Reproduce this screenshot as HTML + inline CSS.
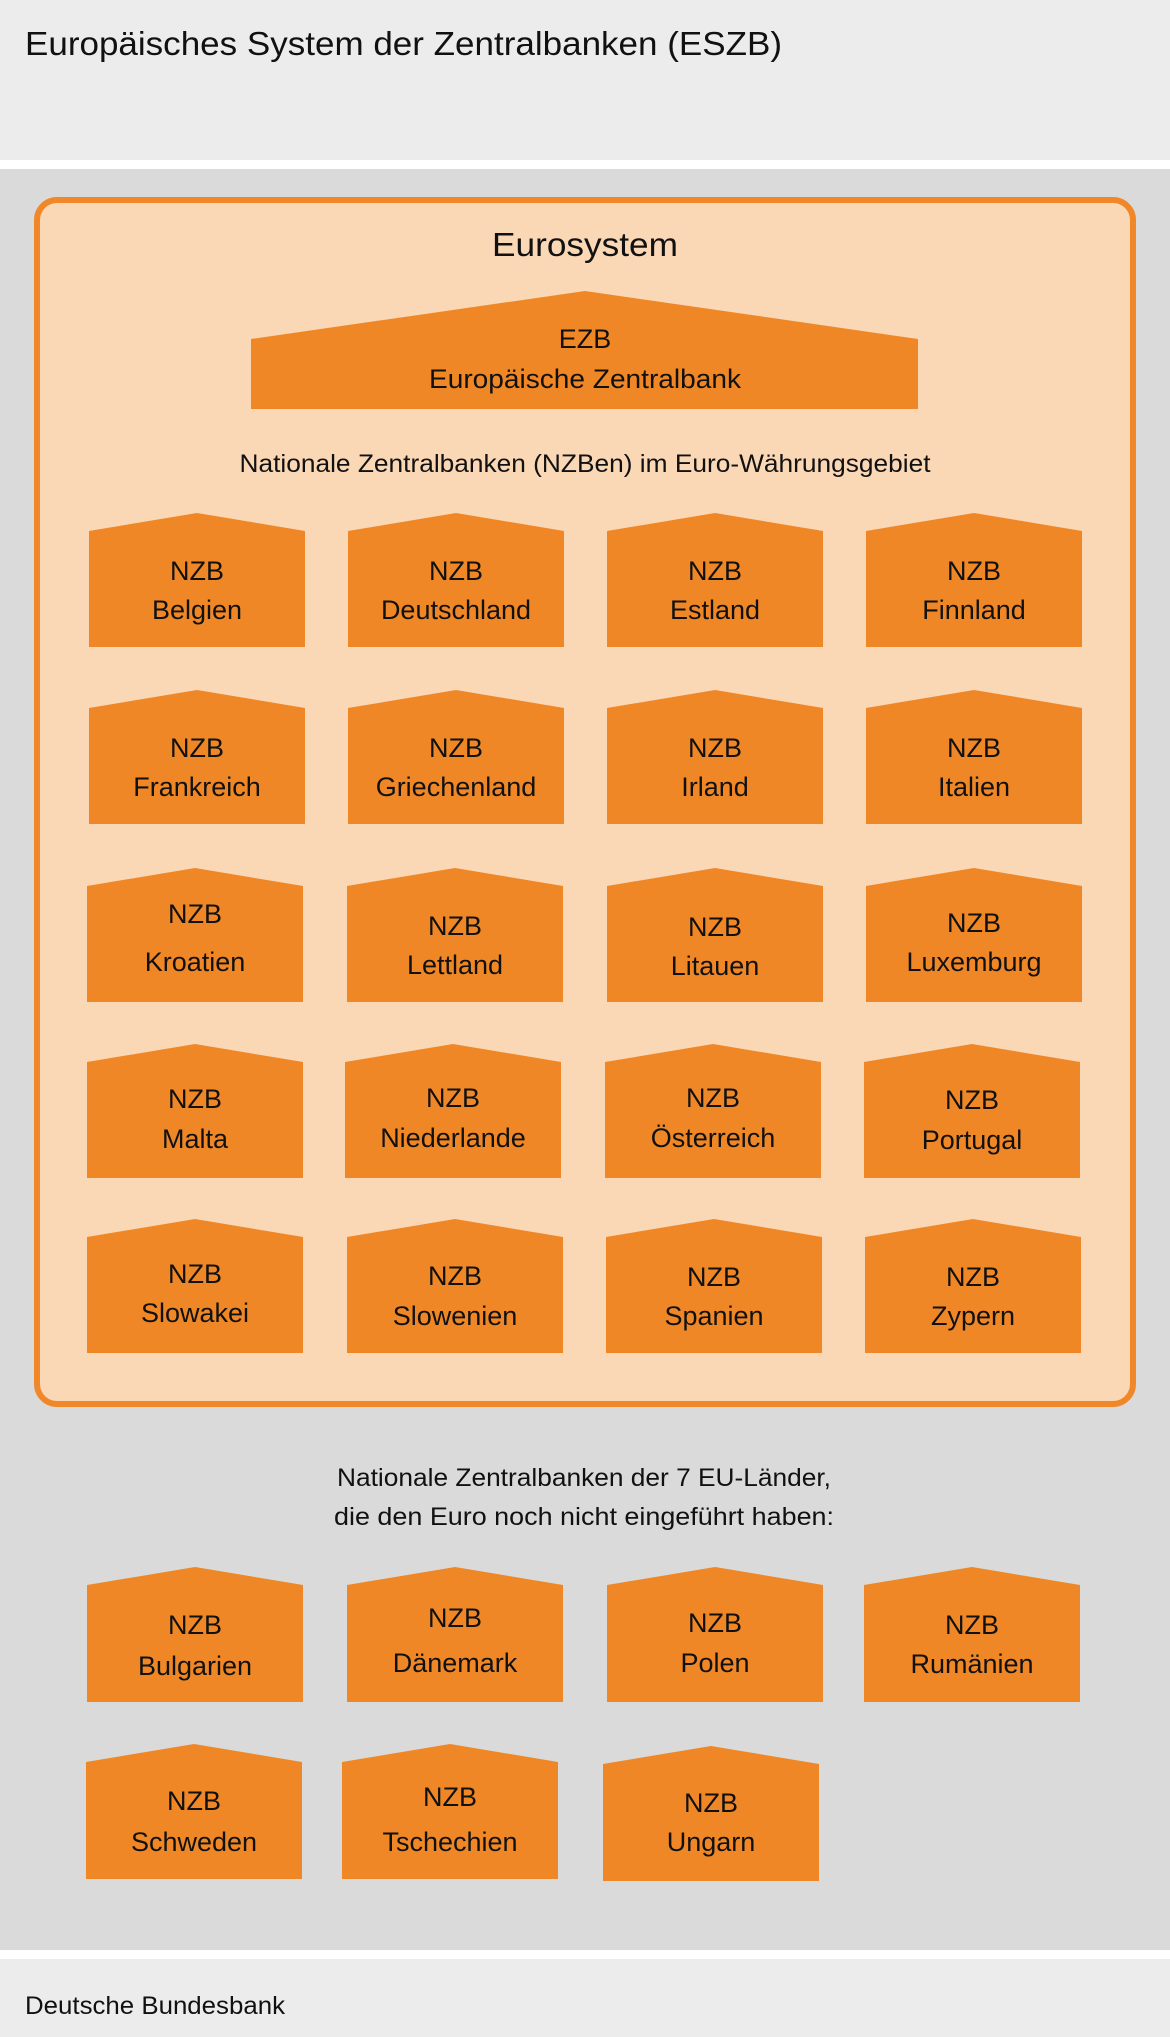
<!DOCTYPE html>
<html><head><meta charset="utf-8"><style>
html,body{margin:0;padding:0;width:1170px;height:2037px;overflow:hidden;background:#fff}
svg{display:block}
text{font-family:"Liberation Sans",sans-serif;fill:#111}
.b{font-size:27px;text-anchor:middle}
</style></head><body>
<svg width="1170" height="2037" viewBox="0 0 1170 2037" xmlns="http://www.w3.org/2000/svg">
<rect x="0" y="0" width="1170" height="160" fill="#ececec"/>
<rect x="0" y="169" width="1170" height="1781" fill="#dadada"/>
<rect x="0" y="1959" width="1170" height="78" fill="#ececec"/>
<text x="25" y="55" font-size="33" textLength="757" lengthAdjust="spacingAndGlyphs">Europäisches System der Zentralbanken (ESZB)</text>
<rect x="37" y="200" width="1096" height="1204" rx="20" fill="#fad7b5" stroke="#f0882a" stroke-width="6"/>
<text x="585" y="256" font-size="33" text-anchor="middle" textLength="186" lengthAdjust="spacingAndGlyphs">Eurosystem</text>
<polygon points="251,339 585,291 918,339 918,409 251,409" fill="#f08726"/>
<text class="b" x="585" y="348">EZB</text>
<text class="b" x="585" y="388" textLength="312" lengthAdjust="spacingAndGlyphs">Europäische Zentralbank</text>
<text x="585" y="472" font-size="25" text-anchor="middle" textLength="691" lengthAdjust="spacingAndGlyphs">Nationale Zentralbanken (NZBen) im Euro-Währungsgebiet</text>
<g fill="#f08726">
<polygon points="89,531 197,513 305,531 305,647 89,647"/>
<polygon points="348,531 456,513 564,531 564,647 348,647"/>
<polygon points="607,531 715,513 823,531 823,647 607,647"/>
<polygon points="866,531 974,513 1082,531 1082,647 866,647"/>
<polygon points="89,708 197,690 305,708 305,824 89,824"/>
<polygon points="348,708 456,690 564,708 564,824 348,824"/>
<polygon points="607,708 715,690 823,708 823,824 607,824"/>
<polygon points="866,708 974,690 1082,708 1082,824 866,824"/>
<polygon points="87,886 195,868 303,886 303,1002 87,1002"/>
<polygon points="347,886 455,868 563,886 563,1002 347,1002"/>
<polygon points="607,886 715,868 823,886 823,1002 607,1002"/>
<polygon points="866,886 974,868 1082,886 1082,1002 866,1002"/>
<polygon points="87,1062 195,1044 303,1062 303,1178 87,1178"/>
<polygon points="345,1062 453,1044 561,1062 561,1178 345,1178"/>
<polygon points="605,1062 713,1044 821,1062 821,1178 605,1178"/>
<polygon points="864,1062 972,1044 1080,1062 1080,1178 864,1178"/>
<polygon points="87,1237 195,1219 303,1237 303,1353 87,1353"/>
<polygon points="347,1237 455,1219 563,1237 563,1353 347,1353"/>
<polygon points="606,1237 714,1219 822,1237 822,1353 606,1353"/>
<polygon points="865,1237 973,1219 1081,1237 1081,1353 865,1353"/>
<polygon points="87,1585 195,1567 303,1585 303,1702 87,1702"/>
<polygon points="347,1585 455,1567 563,1585 563,1702 347,1702"/>
<polygon points="607,1585 715,1567 823,1585 823,1702 607,1702"/>
<polygon points="864,1585 972,1567 1080,1585 1080,1702 864,1702"/>
<polygon points="86,1762 194,1744 302,1762 302,1879 86,1879"/>
<polygon points="342,1762 450,1744 558,1762 558,1879 342,1879"/>
<polygon points="603,1764 711,1746 819,1764 819,1881 603,1881"/>
</g>
<text class="b" x="197" y="580">NZB</text><text class="b" x="197" y="619">Belgien</text>
<text class="b" x="456" y="580">NZB</text><text class="b" x="456" y="619">Deutschland</text>
<text class="b" x="715" y="580">NZB</text><text class="b" x="715" y="619">Estland</text>
<text class="b" x="974" y="580">NZB</text><text class="b" x="974" y="619">Finnland</text>
<text class="b" x="197" y="757">NZB</text><text class="b" x="197" y="796">Frankreich</text>
<text class="b" x="456" y="757">NZB</text><text class="b" x="456" y="796">Griechenland</text>
<text class="b" x="715" y="757">NZB</text><text class="b" x="715" y="796">Irland</text>
<text class="b" x="974" y="757">NZB</text><text class="b" x="974" y="796">Italien</text>
<text class="b" x="195" y="923">NZB</text><text class="b" x="195" y="971">Kroatien</text>
<text class="b" x="455" y="935">NZB</text><text class="b" x="455" y="974">Lettland</text>
<text class="b" x="715" y="936">NZB</text><text class="b" x="715" y="975">Litauen</text>
<text class="b" x="974" y="932">NZB</text><text class="b" x="974" y="971">Luxemburg</text>
<text class="b" x="195" y="1108">NZB</text><text class="b" x="195" y="1148">Malta</text>
<text class="b" x="453" y="1107">NZB</text><text class="b" x="453" y="1147">Niederlande</text>
<text class="b" x="713" y="1107">NZB</text><text class="b" x="713" y="1147">Österreich</text>
<text class="b" x="972" y="1109">NZB</text><text class="b" x="972" y="1149">Portugal</text>
<text class="b" x="195" y="1283">NZB</text><text class="b" x="195" y="1322">Slowakei</text>
<text class="b" x="455" y="1285">NZB</text><text class="b" x="455" y="1325">Slowenien</text>
<text class="b" x="714" y="1286">NZB</text><text class="b" x="714" y="1325">Spanien</text>
<text class="b" x="973" y="1286">NZB</text><text class="b" x="973" y="1325">Zypern</text>
<text x="584" y="1486" font-size="25" text-anchor="middle" textLength="494" lengthAdjust="spacingAndGlyphs">Nationale Zentralbanken der 7 EU-Länder,</text>
<text x="584" y="1525" font-size="25" text-anchor="middle" textLength="500" lengthAdjust="spacingAndGlyphs">die den Euro noch nicht eingeführt haben:</text>
<text class="b" x="195" y="1634">NZB</text><text class="b" x="195" y="1675">Bulgarien</text>
<text class="b" x="455" y="1627">NZB</text><text class="b" x="455" y="1672">Dänemark</text>
<text class="b" x="715" y="1632">NZB</text><text class="b" x="715" y="1672">Polen</text>
<text class="b" x="972" y="1634">NZB</text><text class="b" x="972" y="1673">Rumänien</text>
<text class="b" x="194" y="1810">NZB</text><text class="b" x="194" y="1851">Schweden</text>
<text class="b" x="450" y="1806">NZB</text><text class="b" x="450" y="1851">Tschechien</text>
<text class="b" x="711" y="1812">NZB</text><text class="b" x="711" y="1851">Ungarn</text>
<text x="25" y="2014" font-size="25" textLength="260" lengthAdjust="spacingAndGlyphs">Deutsche Bundesbank</text>
</svg>
</body></html>
